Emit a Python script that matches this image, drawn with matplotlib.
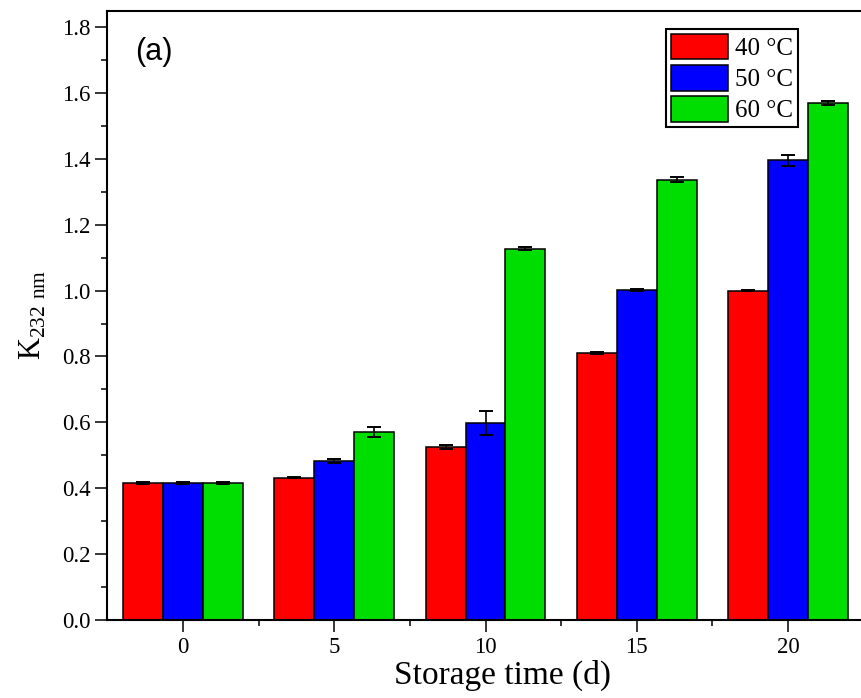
import numpy as np
import matplotlib
matplotlib.use("Agg")
import matplotlib.pyplot as plt
from matplotlib.ticker import MultipleLocator, FixedLocator

# data
days = ["0", "5", "10", "15", "20"]
series_labels = ["40 \u00b0C", "50 \u00b0C", "60 \u00b0C"]
k40 = [0.416, 0.432, 0.525, 0.810, 1.000]
k50 = [0.416, 0.483, 0.598, 1.002, 1.395]
k60 = [0.416, 0.570, 1.127, 1.337, 1.569]
err40 = [0.002, 0.002, 0.006, 0.003, 0.002]
err50 = [0.002, 0.006, 0.035, 0.002, 0.018]
err60 = [0.002, 0.015, 0.004, 0.008, 0.007]

colors = ["#ff0000", "#0000ff", "#00dd00"]

plt.rcParams["font.family"] = "Liberation Serif"
plt.rcParams["mathtext.fontset"] = "custom"
plt.rcParams["mathtext.rm"] = "Liberation Serif"

fig = plt.figure(figsize=(8.62, 6.98), dpi=100)
ax = fig.add_axes([107.4 / 862, 78 / 698, 756.2 / 862, 609.4 / 698])

x = np.arange(len(days))
width = 0.264
values = [k40, k50, k60]
errors = [err40, err50, err60]
for i, (vals, errs) in enumerate(zip(values, errors)):
    ax.bar(
        x + (i - 1) * width,
        vals,
        width,
        yerr=errs,
        color=colors[i],
        edgecolor="black",
        linewidth=1.1,
        label=series_labels[i],
        error_kw=dict(ecolor="black", elinewidth=1.2, capsize=4.7, capthick=1.4),
    )

# axis settings
ax.set_xlim(-0.5, 4.5)
ax.set_ylim(0, 1.85)
ax.set_xticks(x)
ax.set_xticklabels(days)
ax.xaxis.set_minor_locator(FixedLocator(x[:-1] + 0.5))
ax.yaxis.set_major_locator(MultipleLocator(0.2))
ax.yaxis.set_minor_locator(MultipleLocator(0.1))
ax.yaxis.set_major_formatter(matplotlib.ticker.FormatStrFormatter("%.1f"))
ax.tick_params(which="major", direction="out", length=8.5, width=1.1, labelsize=16.5)
ax.tick_params(which="minor", direction="out", length=4.5, width=1.1)
ax.tick_params(top=False, right=False)
for s in ax.spines.values():
    s.set_linewidth(1.5)

ax.set_xlabel("Storage time (d)", fontsize=24)
ax.xaxis.set_label_coords(0.523, -0.065)
ax.set_ylabel(r"K$_{\mathregular{232\ nm}}$", fontsize=22, labelpad=10)

ax.text(0.0365, 0.932, "(a)", transform=ax.transAxes, fontsize=22,
        family="Liberation Sans", va="center", ha="left")

leg = ax.legend(
    loc="upper right",
    bbox_to_anchor=(0.913, 0.970),
    borderaxespad=0,
    fontsize=18,
    fancybox=False,
    edgecolor="black",
    framealpha=1,
    handlelength=2.3,
    handleheight=1.2,
    labelspacing=0.2,
    handletextpad=0.28,
    borderpad=0.19,
)
leg.get_frame().set_linewidth(1.5)

fig.savefig("out.png", dpi=100)
